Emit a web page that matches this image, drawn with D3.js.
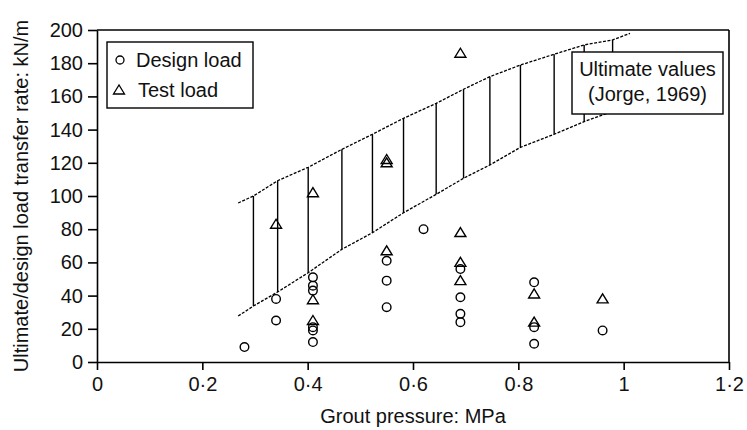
<!DOCTYPE html>
<html>
<head>
<meta charset="utf-8">
<script src="https://cdn.jsdelivr.net/npm/d3@7"></script>
<style>
  body { margin: 0; background: #fff; }
  text { font-family: "Liberation Sans", Arial, sans-serif; fill: #111; }
</style>
</head>
<body>
<div class="parent"></div>
<script>
// design load points (circles)
const designX = [0.28, 0.34, 0.34, 0.41, 0.41, 0.41, 0.41, 0.41, 0.41, 0.55, 0.55, 0.55, 0.62, 0.69, 0.69, 0.69, 0.69, 0.83, 0.83, 0.83, 0.96];
const designY = [9, 38, 25, 51, 46, 43, 21, 19, 12, 61, 49, 33, 80, 56, 39, 29, 24, 48, 21, 11, 19];

// test load points (triangles)
const testX = [0.34, 0.41, 0.41, 0.41, 0.55, 0.55, 0.55, 0.69, 0.69, 0.69, 0.69, 0.83, 0.83, 0.96];
const testY = [83, 102, 37.5, 25, 122, 120, 67, 186, 78, 60, 49, 41, 24, 38];

// ultimate values band (Jorge, 1969)
const bandX = [0.268, 0.297, 0.343, 0.401, 0.465, 0.523, 0.582, 0.644, 0.696, 0.746, 0.804, 0.868, 0.925, 0.979, 1.012];
const bandUpper = [95.8, 100, 109.2, 117.3, 128.1, 137.2, 146.8, 155.8, 164.3, 171.9, 178.9, 185.4, 191, 194, 198];
const bandLower = [27.7, 33.7, 42.2, 53.8, 67.9, 77.9, 89.9, 101, 110.7, 118.7, 129.3, 137.2, 144.8, 151, 156];

const xTicks = [0, 0.2, 0.4, 0.6, 0.8, 1, 1.2];
const yTicks = [0, 20, 40, 60, 80, 100, 120, 140, 160, 180, 200];

const width = 747, height = 430;
const margin = { top: 30, right: 18, bottom: 68, left: 97 };

const svg = d3.select(".parent").append("svg")
  .attr("width", width)
  .attr("height", height);

const x = d3.scaleLinear().domain([0, 1.2]).range([margin.left, width - margin.right]);
const y = d3.scaleLinear().domain([0, 200]).range([height - margin.bottom, margin.top]);

const fmt = d => d === 0 ? "0" : d === 1 ? "1" : d.toFixed(1).replace(".", "\u00b7");

// band boundaries (dashed) and hatching
const band = bandX.map((v, i) => ({ x: v, up: bandUpper[i], lo: bandLower[i] }));

const lineUp = d3.line().x(d => x(d.x)).y(d => y(d.up));
const lineLo = d3.line().x(d => x(d.x)).y(d => y(d.lo));

svg.selectAll(".hatch")
  .data(band.slice(1, band.length - 1))
  .join("line")
  .attr("class", "hatch")
  .attr("x1", d => x(d.x)).attr("x2", d => x(d.x))
  .attr("y1", d => y(d.lo)).attr("y2", d => y(d.up))
  .attr("stroke", "#000")
  .attr("stroke-width", 1.4);

[lineUp, lineLo].forEach(l => {
  svg.append("path")
    .datum(band)
    .attr("d", l)
    .attr("fill", "none")
    .attr("stroke", "#000")
    .attr("stroke-width", 1.3)
    .attr("stroke-dasharray", "3,1.5");
});

// axes
const xAxis = svg.append("g")
  .attr("transform", `translate(0,${height - margin.bottom})`)
  .call(d3.axisBottom(x).tickValues(xTicks).tickFormat(fmt).tickSize(8).tickSizeOuter(0).tickPadding(7));

const yAxis = svg.append("g")
  .attr("transform", `translate(${margin.left},0)`)
  .call(d3.axisLeft(y).tickValues(yTicks).tickSize(9).tickSizeOuter(0).tickPadding(5));

[xAxis, yAxis].forEach(a => {
  a.selectAll("path, line").attr("stroke", "#000").attr("stroke-width", 1.6);
  a.selectAll("text").style("font-size", "20px").attr("fill", "#111");
});

// frame top / right
svg.append("line")
  .attr("x1", x(0)).attr("x2", x(1.2)).attr("y1", y(200)).attr("y2", y(200))
  .attr("stroke", "#000").attr("stroke-width", 1.6);
svg.append("line")
  .attr("x1", x(1.2)).attr("x2", x(1.2)).attr("y1", y(200)).attr("y2", y(0))
  .attr("stroke", "#000").attr("stroke-width", 1.6);

// markers
const tri = (cx, cy) => `M${cx - 5.5},${cy + 4}L${cx + 5.5},${cy + 4}L${cx},${cy - 5}Z`;

svg.selectAll(".design")
  .data(designX.map((v, i) => [v, designY[i]]))
  .join("circle")
  .attr("class", "design")
  .attr("cx", d => x(d[0])).attr("cy", d => y(d[1]))
  .attr("r", 4.3)
  .attr("fill", "none").attr("stroke", "#000").attr("stroke-width", 1.4);

svg.selectAll(".test")
  .data(testX.map((v, i) => [v, testY[i]]))
  .join("path")
  .attr("class", "test")
  .attr("d", d => tri(x(d[0]), y(d[1])))
  .attr("fill", "none").attr("stroke", "#000").attr("stroke-width", 1.4);

// legend
const legend = svg.append("g");
legend.append("rect")
  .attr("x", 107).attr("y", 42).attr("width", 146).attr("height", 66)
  .attr("fill", "#fff").attr("stroke", "#000").attr("stroke-width", 1.4);
legend.append("circle")
  .attr("cx", 120).attr("cy", 60).attr("r", 4)
  .attr("fill", "none").attr("stroke", "#000").attr("stroke-width", 1.3);
legend.append("text").attr("x", 136).attr("y", 67).style("font-size", "20px").text("Design load");
legend.append("path")
  .attr("d", tri(119, 90))
  .attr("fill", "none").attr("stroke", "#000").attr("stroke-width", 1.3);
legend.append("text").attr("x", 138).attr("y", 97).style("font-size", "20px").text("Test load");

// annotation
const note = svg.append("g");
note.append("rect")
  .attr("x", 572).attr("y", 52).attr("width", 151).attr("height", 62)
  .attr("fill", "#fff").attr("stroke", "#000").attr("stroke-width", 1.4);
note.append("text").attr("x", 647.5).attr("y", 76).attr("text-anchor", "middle")
  .style("font-size", "20px").attr("fill", "#222").text("Ultimate values");
note.append("text").attr("x", 647.5).attr("y", 101).attr("text-anchor", "middle")
  .style("font-size", "20px").attr("fill", "#222").text("(Jorge, 1969)");

// axis titles
svg.append("text")
  .attr("x", (x(0) + x(1.2)) / 2).attr("y", 423)
  .attr("text-anchor", "middle")
  .style("font-size", "20px")
  .text("Grout pressure: MPa");

svg.append("text")
  .attr("transform", `translate(28,${(y(0) + y(200)) / 2}) rotate(-90)`)
  .attr("text-anchor", "middle")
  .style("font-size", "20px")
  .text("Ultimate/design load transfer rate: kN/m");
</script>
</body>
</html>
